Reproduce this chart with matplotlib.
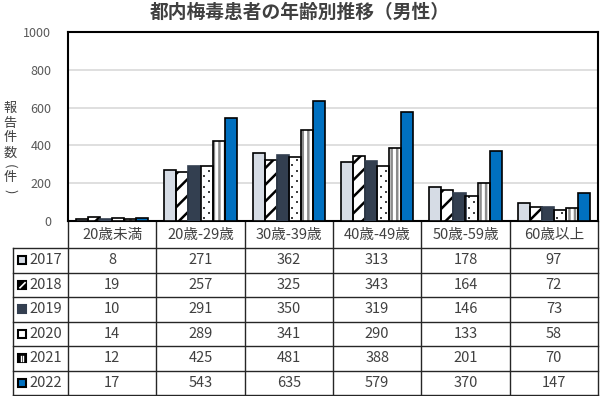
import numpy as np
import matplotlib.pyplot as plt
from matplotlib.patches import Rectangle

plt.rcParams['font.family'] = ['Noto Sans CJK JP', 'DejaVu Sans']
plt.rcParams['hatch.linewidth'] = 1.8

# data
categories = ["20歳未満", "20歳-29歳", "30歳-39歳", "40歳-49歳", "50歳-59歳", "60歳以上"]
years = ["2017", "2018", "2019", "2020", "2021", "2022"]
v2017 = [8, 271, 362, 313, 178, 97]
v2018 = [19, 257, 325, 343, 164, 72]
v2019 = [10, 291, 350, 319, 146, 73]
v2020 = [14, 289, 341, 290, 133, 58]
v2021 = [12, 425, 481, 388, 201, 70]
v2022 = [17, 543, 635, 579, 370, 147]
series = [v2017, v2018, v2019, v2020, v2021, v2022]

# styles: face, hatch, hatch color, edge
styles = [
    dict(fc="#D6DCE5", hatch=None, hc="black", ec="black"),
    dict(fc="white", hatch="//", hc="black", ec="black"),
    dict(fc="#333F50", hatch=None, hc="#333F50", ec="#333F50"),
    dict(fc="white", hatch=None, hc="#595959", ec="black"),
    dict(fc="white", hatch="|||", hc="#8C8C8C", ec="black"),
    dict(fc="#0070C0", hatch=None, hc="black", ec="black"),
]

W, H = 600, 396
fig = plt.figure(figsize=(6, 3.96), dpi=100)

x0, x1, ytop, ybot = 68, 598, 32, 221
ax = fig.add_axes([x0 / W, 1 - ybot / H, (x1 - x0) / W, (ybot - ytop) / H])

x = np.arange(len(categories))
w = 0.136
for i, (vals, st) in enumerate(zip(series, styles)):
    pos = x + (i - 2.5) * w
    ax.bar(pos, vals, w, color=st["fc"], hatch=st["hatch"],
           edgecolor=st["hc"], linewidth=0, zorder=3)
    if i == 3:
        # sparse dot pattern for 2020
        for p, v in zip(pos, vals):
            ys = np.arange(14, v - 6, 28)
            xs = p + np.where(np.arange(len(ys)) % 2 == 0, -0.22, 0.22) * w
            ax.scatter(xs, ys, s=1.5, marker="s", color="#404040",
                       linewidths=0, zorder=3.5)
    ax.bar(pos, vals, w, color="none", edgecolor=st["ec"], linewidth=1.2, zorder=4)

ax.set_xlim(-0.5, len(categories) - 0.5)
ax.set_ylim(0, 1000)
ax.set_yticks(range(0, 1001, 200))
ax.set_xticks([])
ax.tick_params(axis="y", length=0, labelsize=9, labelcolor="#595959", pad=12)
ax.yaxis.grid(True, color="#D9D9D9", linewidth=1.2, zorder=0)
for s in ax.spines.values():
    s.set_color("black")
    s.set_linewidth(1.5)

# overlay axes in pixel coordinates for title, y label and table
ov = fig.add_axes([0, 0, 1, 1], zorder=-1)
ov.set_xlim(0, W)
ov.set_ylim(H, 0)
ov.axis("off")

ov.text(300, 12, "都内梅毒患者の年齢別推移（男性）", ha="center", va="center",
        fontsize=13.5, fontweight="bold", color="#404040")

ylabel_chars = ["報", "告", "件", "数", "(", "件", ")"]
ylabel_y = [108, 123, 138, 153, 166, 178, 191]
for ch, yy in zip(ylabel_chars, ylabel_y):
    rot = -90 if ch in "()" else 0
    ov.text(10, yy, ch, ha="center", va="center", fontsize=9.5,
            color="#404040", rotation=rot)

# table
col_edges = np.linspace(x0, x1, len(categories) + 1)
row_top = 248
row_h = (395 - row_top) / len(years)
lc = "#262626"
for cx in col_edges:
    ov.plot([cx, cx], [ybot, 395], color=lc, lw=1)
ov.plot([13, 13], [row_top, 395], color=lc, lw=1)
for r in range(len(years) + 1):
    yy = row_top + r * row_h
    ov.plot([13, x1], [yy, yy], color=lc, lw=1)

for j, cat in enumerate(categories):
    cx = (col_edges[j] + col_edges[j + 1]) / 2
    ov.text(cx, (ybot + row_top) / 2 + 1, cat, ha="center", va="center",
            fontsize=10.5, color="#404040")

key_fc = ["#D6DCE5", "black", "#333F50", "white", "black", "#0070C0"]
key_ec = ["black", "black", "#333F50", "black", "black", "black"]
for r, (yr, vals) in enumerate(zip(years, series)):
    cy = row_top + (r + 0.5) * row_h
    ov.add_patch(Rectangle((18, cy - 4), 8, 8, facecolor=key_fc[r],
                           edgecolor=key_ec[r], linewidth=1.5))
    if r == 1:
        ov.plot([20, 25], [cy + 3, cy - 2], color="white", lw=1.2)
    if r == 4:
        ov.plot([21, 21], [cy - 2.5, cy + 2.5], color="white", lw=1)
        ov.plot([23, 23], [cy - 2.5, cy + 2.5], color="white", lw=1)
    ov.text(29, cy, yr, ha="left", va="center", fontsize=10.5, color="#404040")
    for j, v in enumerate(vals):
        cx = (col_edges[j] + col_edges[j + 1]) / 2
        ov.text(cx, cy, str(v), ha="center", va="center", fontsize=10.5,
                color="#404040")

fig.savefig("out.png", dpi=100)
